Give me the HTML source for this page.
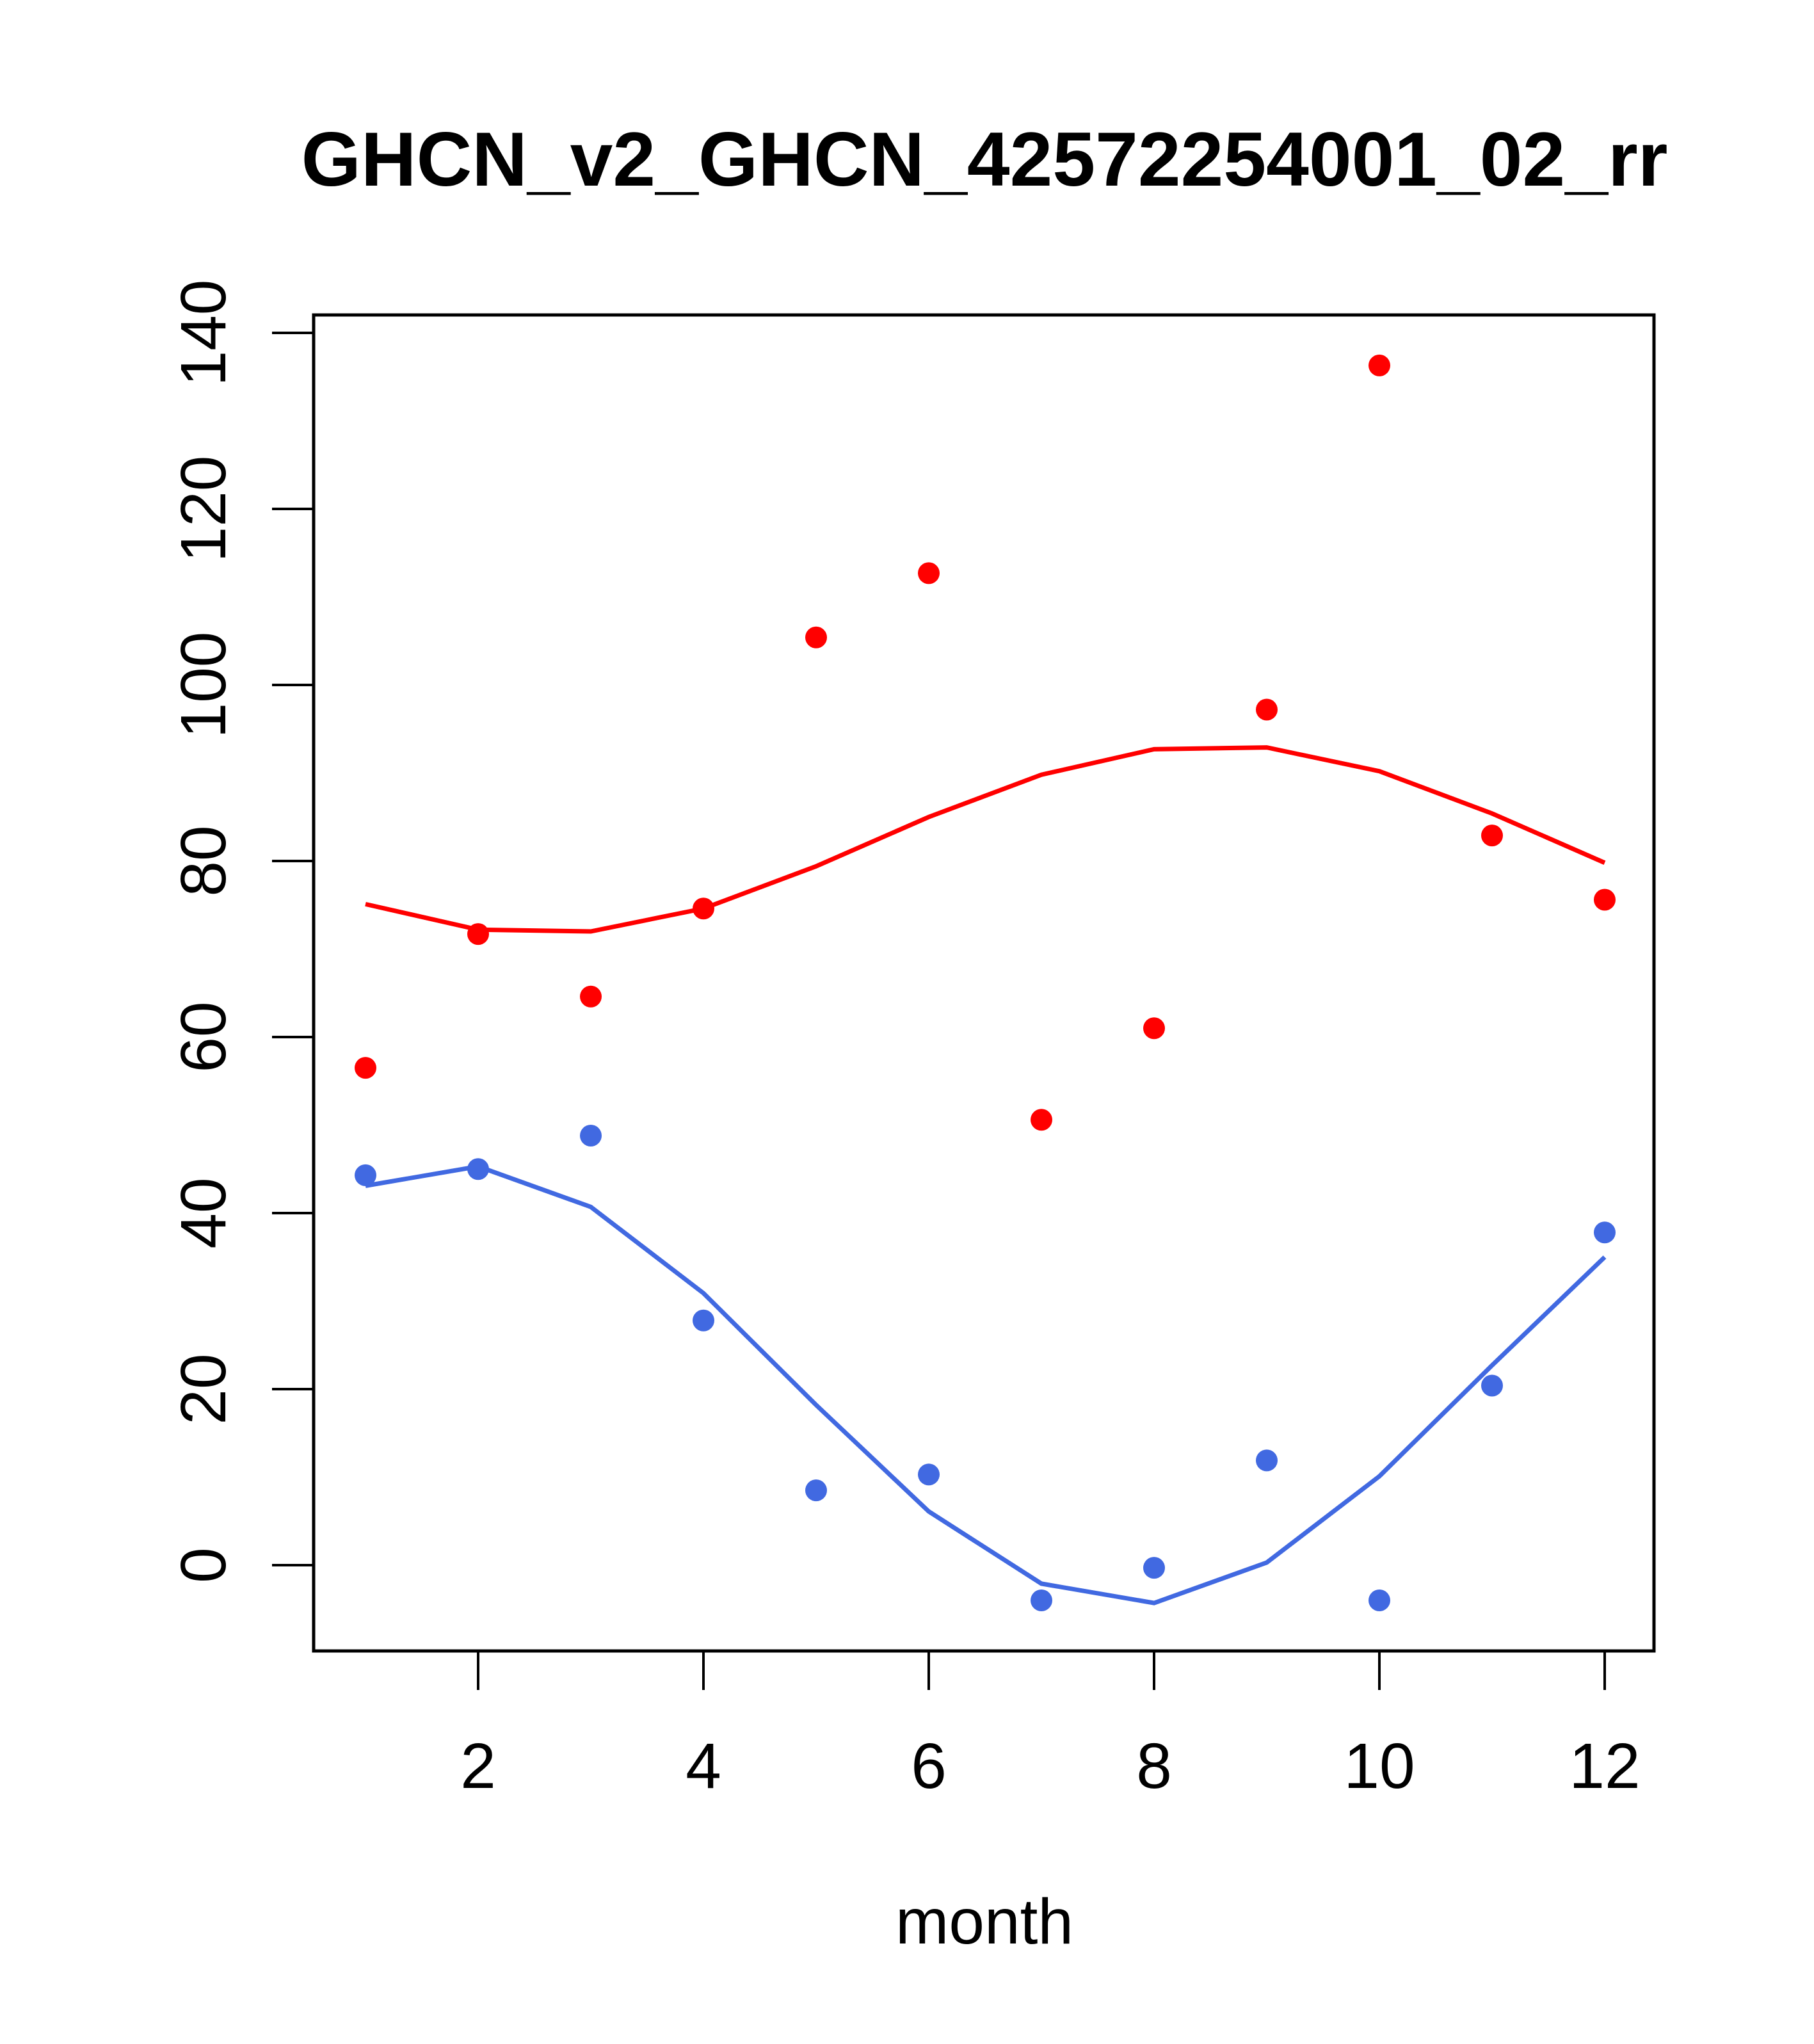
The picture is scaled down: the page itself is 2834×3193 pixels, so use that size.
<!DOCTYPE html>
<html><head><meta charset="utf-8"><style>html,body{margin:0;padding:0;background:#fff}</style></head>
<body>
<svg id="chart" width="2834" height="3188" xmlns="http://www.w3.org/2000/svg" font-family="Liberation Sans, sans-serif">
<rect width="2834" height="3188" fill="#fff"/>
<text x="1538" y="290" font-size="120" font-weight="bold" text-anchor="middle">GHCN_v2_GHCN_42572254001_02_rr</text>
<text x="1538" y="3036" font-size="100" text-anchor="middle">month</text>
<rect x="490" y="492" width="2094" height="2087" fill="none" stroke="#000" stroke-width="5"/>
<g id="axes"></g>
<g id="marks"></g>
</svg>
<script>
const months = [1,2,3,4,5,6,7,8,9,10,11,12];
const redPoints = [56.5,71.7,64.6,74.6,105.4,112.7,50.6,61.0,97.2,136.3,82.9,75.6];
const redLine = [75.1,72.2,72.0,74.6,79.4,85.0,89.8,92.7,92.9,90.2,85.4,79.8];
const bluePoints = [44.3,45.0,48.8,27.8,8.5,10.3,-4.0,-0.3,11.9,-4.0,20.4,37.8];
const blueLine = [43.1,45.3,40.7,30.9,18.2,6.1,-2.1,-4.3,0.3,10.1,22.7,35.0];
const xTicks = [2,4,6,8,10,12];
const yTicks = [0,20,40,60,80,100,120,140];

const NS='http://www.w3.org/2000/svg';
function xs(m){return 747+(m-2)*176;}
function ys(v){return 2445-v*13.75;}
function mk(tag,attrs,parent){const e=document.createElementNS(NS,tag);for(const k in attrs)e.setAttribute(k,attrs[k]);parent.appendChild(e);return e;}
const axes=document.getElementById('axes'), marks=document.getElementById('marks');
xTicks.forEach(t=>{
  const l=mk('line',{x1:xs(t),x2:xs(t),y1:2579,y2:2640,stroke:'#000','stroke-width':4},axes);
  
  
  const tx=mk('text',{x:xs(t),y:2793,'font-size':100,'text-anchor':'middle'},axes);
  tx.textContent=t;
  
  
});
yTicks.forEach(t=>{
  const l=mk('line',{x1:425,x2:490,y1:ys(t),y2:ys(t),stroke:'#000','stroke-width':4},axes);
  
  
  const tx=mk('text',{x:0,y:0,'font-size':100,'text-anchor':'middle',transform:`translate(352,${ys(t)}) rotate(-90)`},axes);
  tx.textContent=t;
  
  
});
function drawLine(vals,color,name){
  const p=mk('polyline',{points:vals.map((v,i)=>xs(months[i])+','+ys(v)).join(' '),fill:'none',stroke:color,'stroke-width':7},marks);
  
  
}
function drawPts(vals,color,name){
  vals.forEach((v,i)=>{
    const c=mk('circle',{cx:xs(months[i]),cy:ys(v),r:17,fill:color},marks);
    
    
  });
}
drawLine(redLine,'#ff0000','red-trend-line');
drawLine(blueLine,'#4169e1','blue-trend-line');
drawPts(redPoints,'#ff0000','red-point');
drawPts(bluePoints,'#4169e1','blue-point');
</script>
</body></html>
